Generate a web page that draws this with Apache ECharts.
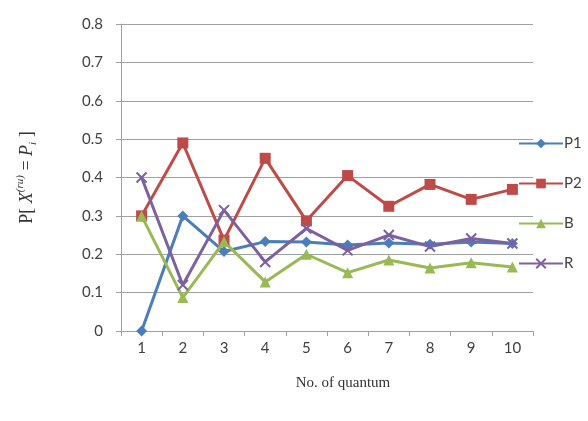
<!DOCTYPE html>
<html><head><meta charset="utf-8">
<script src="https://cdn.jsdelivr.net/npm/echarts@6/dist/echarts.min.js"></script>
<style>html,body{margin:0;padding:0;background:#fff}#c{width:588px;height:421px}</style>
</head><body><div id="c"></div>
<script>
const categories = ['1','2','3','4','5','6','7','8','9','10'];
const P1 = [0, 0.30, 0.207, 0.233, 0.232, 0.224, 0.229, 0.226, 0.232, 0.228];
const P2 = [0.30, 0.49, 0.237, 0.45, 0.287, 0.405, 0.325, 0.382, 0.343, 0.369];
const B  = [0.30, 0.087, 0.233, 0.128, 0.20, 0.152, 0.185, 0.164, 0.178, 0.167];
const R  = [0.40, 0.12, 0.315, 0.18, 0.267, 0.21, 0.25, 0.22, 0.241, 0.228];
const colors = {P1:'#4a7ebb', P2:'#be4b48', B:'#98b954', R:'#7d60a0'};
const xPath = 'path://M0,0L10,10M10,0L0,10';

function mk(name, data, symbol, size, extra) {
  return Object.assign({
    name, type:'line', data, symbol, symbolSize:size,
    lineStyle:{width:3, color:colors[name]},
    itemStyle:{color:colors[name]},
    animation:false
  }, extra||{});
}

const chart = echarts.init(document.getElementById('c'));
chart.setOption({
  backgroundColor:'#fff',
  grid:{left:121, right:55, top:24, bottom:90},
  legend:{
    orient:'vertical', left:513, top:131, itemWidth:44, itemHeight:12, itemGap:25,
    textStyle:{fontFamily:'Lato', fontSize:15, color:'#404040', padding:[0,0,0,-4]},
    data:['P1','P2','B','R']
  },
  xAxis:{
    type:'category', data:categories, boundaryGap:true,
    axisLine:{lineStyle:{color:'#a0a0a0', width:1}},
    axisTick:{show:true, length:5, lineStyle:{color:'#a0a0a0'}},
    axisLabel:{fontFamily:'Lato', fontSize:15, color:'#404040', margin:10},
    name:'No. of quantum', nameLocation:'middle', nameGap:45,
    nameTextStyle:{fontFamily:'Liberation Serif', fontSize:15, color:'#333', padding:[0,0,0,32]}
  },
  yAxis:{
    type:'value', min:0, max:0.8, interval:0.1,
    axisLine:{show:true, lineStyle:{color:'#a0a0a0'}},
    axisTick:{show:true, length:5, lineStyle:{color:'#a0a0a0'}},
    splitLine:{lineStyle:{color:'#a0a0a0', width:1}},
    axisLabel:{fontFamily:'Lato', fontSize:15, color:'#404040', margin:18},
    name:'{a|P[ }{i|X}{s|(ru)}{a| = }{i|P}{b|i}{a| ]}',
    nameLocation:'middle', nameRotate:90, nameGap:82,
    nameTextStyle:{
      fontFamily:'Liberation Serif', fontSize:18, color:'#333',
      rich:{
        a:{fontFamily:'Liberation Serif', fontSize:18, color:'#333', lineHeight:24},
        i:{fontFamily:'Liberation Serif', fontStyle:'italic', fontSize:18, color:'#333', lineHeight:24},
        s:{fontFamily:'Liberation Serif', fontStyle:'italic', fontSize:11, color:'#333', verticalAlign:'top', lineHeight:24},
        b:{fontFamily:'Liberation Serif', fontStyle:'italic', fontSize:11, color:'#333', verticalAlign:'bottom', lineHeight:24}
      }
    }
  },
  series:[
    mk('P1', P1, 'diamond', 11),
    mk('P2', P2, 'rect', 11),
    mk('B', B, 'triangle', 11),
    mk('R', R, xPath, 10, {itemStyle:{color:colors.R, borderColor:colors.R, borderWidth:2}})
  ]
});
</script></body></html>
